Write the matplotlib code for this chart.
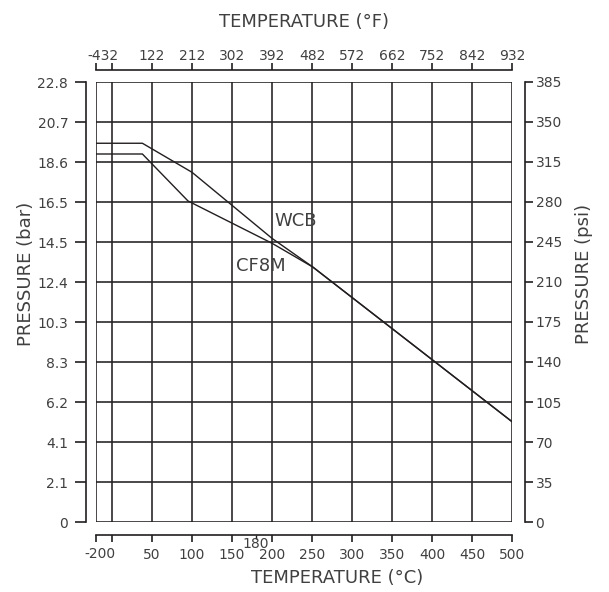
import matplotlib
matplotlib.use("Agg")
import matplotlib.pyplot as plt
from matplotlib.transforms import blended_transform_factory

plt.rcParams['font.family'] = ['DejaVu Sans']

# ---- data (temperature in °C, pressure in psi on the chart's psi scale) ----
wcb_temp = [-20, 38, 100, 200, 251, 500]
wcb_psi = [331.4, 331.4, 306.0, 248.2, 223.1, 87.8]
cf8m_temp = [-20, 38, 95, 200, 251, 500]
cf8m_psi = [322.0, 322.0, 280.9, 243.9, 223.1, 87.8]

x_ticks = [-20, 0, 50, 100, 150, 200, 250, 300, 350, 400, 450, 500]
c_labels = ['', '', '50', '100', '150', '200', '250', '300', '350', '400', '450', '500']
f_labels = ['', '', '122', '212', '302', '392', '482', '572', '662', '752', '842', '932']
psi_ticks = [0, 35, 70, 105, 140, 175, 210, 245, 280, 315, 350, 385]
bar_labels = ['0', '2.1', '4.1', '6.2', '8.3', '10.3', '12.4', '14.5', '16.5', '18.6', '20.7', '22.8']
psi_labels = [str(v) for v in psi_ticks]

INK = '#231f20'
TXT = '#404040'
FS = 10
LFS = 13

fig = plt.figure(figsize=(6.09, 5.92), dpi=100)
W, H = 609, 592
ax = fig.add_axes([96 / W, (H - 522) / H, 416 / W, 440 / H])
ax.set_xlim(-20, 500)
ax.set_ylim(0, 385)

# grid
ax.set_xticks(x_ticks)
ax.set_yticks(psi_ticks)
ax.grid(True, color=INK, linewidth=1.15)
for gl in ax.get_xgridlines() + ax.get_ygridlines():
    gl.set_clip_on(False)

# curves
ax.plot(wcb_temp, wcb_psi, color=INK, linewidth=1.0, zorder=3)
ax.plot(cf8m_temp, cf8m_psi, color=INK, linewidth=1.0, zorder=3)
ax.text(229, 263, 'WCB', fontsize=13, color=TXT, ha='center', va='center')
ax.text(186, 224, 'CF8M', fontsize=13, color=TXT, ha='center', va='center')

# left (bar) & bottom (°C)
for s in ['top', 'right']:
    ax.spines[s].set_visible(False)
ax.spines['left'].set_position(('outward', 7))
ax.spines['left'].set_bounds(0, 385)
ax.spines['bottom'].set_position(('outward', 9))
ax.spines['bottom'].set_bounds(-20, 500)
for s in ['left', 'bottom']:
    ax.spines[s].set_color(INK)
    ax.spines[s].set_linewidth(1.2)
ax.set_yticklabels(bar_labels)
ax.set_xticklabels(c_labels)
ax.tick_params(axis='y', direction='out', length=8, width=1.2, color=INK,
               pad=5, labelsize=FS, labelcolor=TXT)
ax.tick_params(axis='x', direction='out', length=5, width=1.2, color=INK,
               pad=5, labelsize=FS, labelcolor=TXT)
ax.set_xticks([180], minor=True)
ax.set_xticklabels(['180'], minor=True)
ax.tick_params(axis='x', which='minor', direction='out', length=3, width=1.0,
               color=INK, pad=-1, labelsize=FS, labelcolor=TXT)
tb = blended_transform_factory(ax.transData, fig.transFigure)
fig.text(-15, 1 - 554 / H, '-200', transform=tb, fontsize=FS, color=TXT,
         ha='center', va='center')
ax.set_xlabel('TEMPERATURE (°C)', fontsize=LFS, color=TXT)
ax.xaxis.set_label_coords((337 - 96) / 416, -(569 - 522) / 440)
ax.set_ylabel('PRESSURE (bar)', fontsize=LFS, color=TXT)
ax.yaxis.set_label_coords(-(96 - 35) / 416, (522 - 274) / 440)

# top (°F)
axt = ax.twiny()
axt.set_xlim(ax.get_xlim())
axt.set_xticks(x_ticks)
axt.set_xticklabels(f_labels)
for s in ['bottom', 'left', 'right']:
    axt.spines[s].set_visible(False)
axt.spines['top'].set_position(('outward', 9))
axt.spines['top'].set_bounds(-20, 500)
axt.spines['top'].set_color(INK)
axt.spines['top'].set_linewidth(1.2)
axt.tick_params(axis='x', direction='out', length=5, width=1.2, color=INK,
                pad=0, labelsize=FS, labelcolor=TXT)
fig.text(-11, 1 - 56 / H, '-432', transform=tb, fontsize=FS, color=TXT,
         ha='center', va='center')
axt.set_xlabel('TEMPERATURE (°F)', fontsize=LFS, color=TXT)
axt.xaxis.set_label_coords((304 - 96) / 416, 1 + (82 - 27) / 440)

# right (psi)
axr = ax.twinx()
axr.set_ylim(ax.get_ylim())
axr.set_yticks(psi_ticks)
axr.set_yticklabels(psi_labels)
for s in ['bottom', 'left', 'top']:
    axr.spines[s].set_visible(False)
axr.spines['right'].set_position(('outward', 9))
axr.spines['right'].set_bounds(0, 385)
axr.spines['right'].set_color(INK)
axr.spines['right'].set_linewidth(1.2)
axr.tick_params(axis='y', direction='out', length=6, width=1.2, color=INK,
                pad=2, labelsize=FS, labelcolor=TXT)
axr.set_ylabel('PRESSURE (psi)', fontsize=LFS, color=TXT)
axr.yaxis.set_label_coords(1 + (575 - 512) / 416, (522 - 274) / 440)

fig.savefig('out.png', dpi=100)
